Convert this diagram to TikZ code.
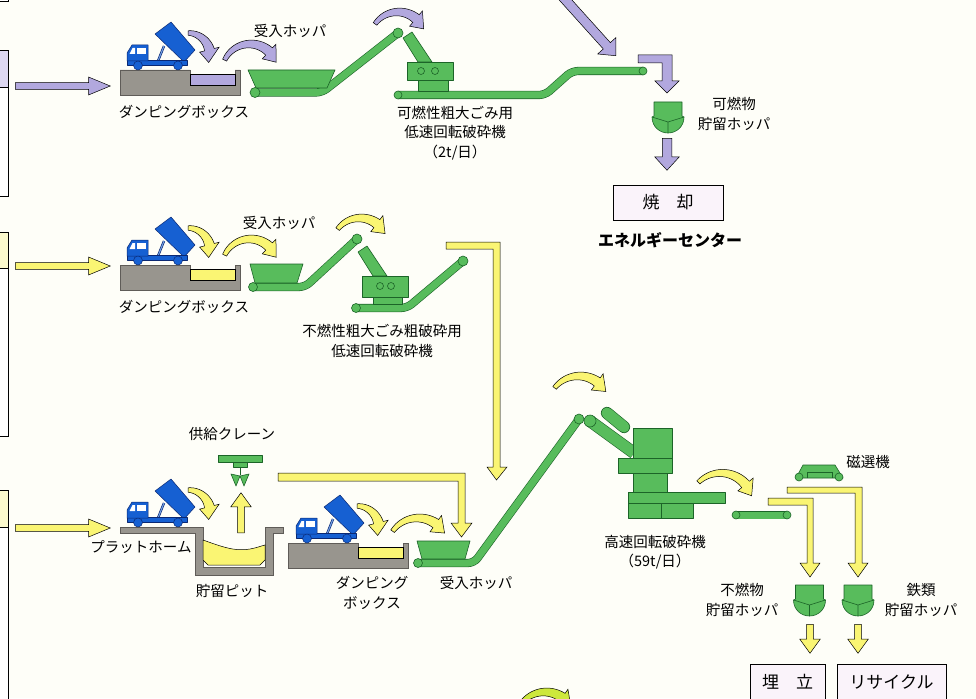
\documentclass[tikz,border=0pt]{standalone}
\usepackage{fontspec}
\newfontfamily\jpfont{Noto Sans CJK JP}
\usepackage{tikz}
\usetikzlibrary{shapes.arrows}

\definecolor{paper}{RGB}{254,254,248}
\definecolor{lavfill}{RGB}{178,168,222}
\definecolor{lavpale}{RGB}{222,216,242}
\definecolor{yelfill}{RGB}{250,245,115}
\definecolor{yelpale}{RGB}{252,250,205}
\definecolor{limefill}{RGB}{205,232,60}
\definecolor{beltgreen}{RGB}{88,188,92}
\definecolor{beltline}{RGB}{28,100,40}
\definecolor{truckblue}{RGB}{22,96,210}
\definecolor{truckline}{RGB}{10,40,115}
\definecolor{pitgray}{RGB}{152,149,142}
\definecolor{pitline}{RGB}{95,92,88}
\definecolor{boxpale}{RGB}{250,243,250}

% curved block arrow, thin at the tail: fill, centre x, centre y, radius, tail angle, head angle
\newcommand{\turnarrow}[6]{%
  \pgfmathsetmacro\arwHo{#4+10}%
  \pgfmathsetmacro\arwHi{#4-10}%
  \pgfmathsetmacro\arwTip{#6+13/#4*57.2958}%
  \begin{scope}[shift={(#2,#3)}]
    \filldraw[myFlow, fill=#1]
      plot[domain=#5:#6, samples=24] (\x:{#4+2.2+2.8*(\x-#5)/(#6-#5)})
      -- (#6:\arwHo) -- (\arwTip:#4) -- (#6:\arwHi)
      -- plot[domain=#6:#5, samples=24] (\x:{#4-2.2-2.8*(\x-#5)/(#6-#5)}) -- cycle;
  \end{scope}}

\tikzset{
myLabel/.style={font=\jpfont\fontsize{14.5}{19.5}\selectfont, align=center, inner sep=0pt}
, myDest/.style={draw, line width=0.6pt, fill=boxpale, font=\jpfont\fontsize{17}{20}\selectfont, inner sep=0pt}
, myMachine/.style={fill=beltgreen, draw=beltline, line width=0.6pt, line join=round}
, myBelt/.style={draw=beltline, double=beltgreen, double distance=7pt, line width=0.6pt, rounded corners=6pt}
, myRoller/.style={circle, draw=beltline, fill=beltgreen, line width=0.6pt, inner sep=0pt, minimum size=#1}
, myRoller/.default=9pt
, myFlow/.style={draw=black, line width=0.5pt, line join=miter}
, myInArrow/.style={single arrow, myFlow, inner sep=3.2pt, single arrow head extend=5.5pt, single arrow tip angle=45, anchor=tail}
, myDrop/.style={single arrow, myFlow, inner sep=3.2pt, single arrow head extend=6.8pt, single arrow tip angle=72, anchor=tail}
, myLavDrop/.style={myDrop, inner sep=4.5pt, single arrow head extend=7.5pt, single arrow tip angle=85}
, myGround/.style={fill=pitgray, draw=pitline, line width=0.5pt}
, myTruck/.style={fill=truckblue, draw=truckline, line width=0.5pt, line join=round}
% dump truck, origin at the rear wheel line on the ground
, pics/truck/.style={code={
	\filldraw[myTruck] (28,-36) -- (44,-48) -- (68,-20) -- (57,-8) -- cycle;
	\draw[truckline, line width=2.4pt] (31,-9) -- (37,-24);
	\draw[truckblue!60!white, line width=1.1pt] (31,-9) -- (37,-24);
	\filldraw[myTruck] (0,-5) rectangle (60,-10);
	\filldraw[myTruck] (0,-9) -- (0,-17) -- (5,-25) -- (21,-25) -- (21,-9) -- cycle;
	\fill[white] (2.5,-16) -- (5.5,-22) -- (8,-22) -- (8,-16) -- cycle;
	\fill[white] (10,-16) rectangle (19,-22);
	\foreach \wx in {11,51}
		\filldraw[myTruck] (\wx,-4.5) circle[radius=4.5];
}}
% dumping box with its load
, pics/dumpbox/.style={code={
	\filldraw[myGround] (0,0) -- (70,0) -- (70,15) -- (115,15) -- (115,0) -- (120,0)
		-- (120,25) -- (0,25) -- cycle;
	\filldraw[fill=#1, draw=black, line width=0.5pt] (70,4) rectangle (115,15);
}}
% storage hopper with its gate
, pics/storehopper/.style={code={
	\filldraw[myMachine] (-14,-15) -- (14,-15) -- (14,-1) -- (16,0)
		.. controls (16,10) and (8,16) .. (0,16) .. controls (-8,16) and (-16,10) .. (-16,0)
		-- (-14,-1) -- cycle;
	\draw[beltline, line width=0.6pt] (-16,0) -- (0,5) -- (16,0) (0,5) -- (0,16);
}}
}

\begin{document}
\begin{tikzpicture}[x=1pt, y=-1pt]
	\useasboundingbox (0,0) rectangle (976,698);
	\clip (0,0) rectangle (976,698);
	\fill[paper] (0,0) rectangle (976,698);

	% source boxes at the left edge
	\draw[line width=0.6pt, fill=white] (-5,-40) rectangle (8,1);
	\foreach \ya/\yb/\yc/\hc in {50/87/196/lavpale, 232/268/436/yelpale, 490/527/720/yelpale}{
		\draw[line width=0.6pt, fill=white] (-5,\ya) rectangle (8,\yc);
		\draw[line width=0.6pt, fill=\hc] (-5,\ya) rectangle (8,\yb);
	}

	%%%% combustible bulky waste
	\node[myInArrow, fill=lavfill, minimum height=95pt] (InA) at (15,86) {};
	\pic at (120,70) {dumpbox=lavfill};
	\pic at (127,70) {truck};
	\turnarrow{lavfill}{188}{55}{22}{270}{346}
	\turnarrow{lavfill}{250}{72}{28}{205}{313}
	% feed belt and hopper
	\coordinate (BeltA1) at (255,92.5);
	\coordinate (BeltA2) at (398,33);
	\draw[myBelt] (BeltA1) -- (322,92.5) -- (BeltA2);
	\filldraw[myMachine] (248,70) -- (335,70) -- (327,88) -- (256,88) -- cycle;
	\node[myRoller=10pt] (RollA1) at (BeltA1) {};
	\node[myRoller=10pt] (RollA2) at (BeltA2) {};
	% low speed shredder
	\turnarrow{lavfill}{398}{40}{28}{215}{310}
	\coordinate (BeltB1) at (398,95);
	\coordinate (BeltB2) at (643,71);
	\draw[myBelt] (BeltB1) -- (545,95) -- (572,71) -- (BeltB2);
	\filldraw[myMachine] (403,38) -- (412,32) -- (432,62) -- (418,62) -- cycle;
	\filldraw[myMachine] (407,62) rectangle (453,80);
	\filldraw[myMachine] (418,80) rectangle (448,91);
	\foreach \cx in {421,435}
		\filldraw[myMachine] (\cx,71) circle[radius=3.5];
	\node[myRoller=8pt] (RollB1) at (BeltB1) {};
	\node[myRoller=8pt] (RollB2) at (BeltB2) {};
	% to the storage hopper
	\node[myLavDrop, fill=lavfill, rotate=-48, minimum height=92pt, anchor=tip] (InTop) at (616,56) {};
	\filldraw[myFlow, fill=lavfill] (638,55) -- (672,55) -- (672,81) -- (679,81) -- (667,93)
		-- (655,81) -- (662,81) -- (662,63) -- (638,63) -- cycle;
	\pic at (668,117) {storehopper};
	\node[myLavDrop, fill=lavfill, rotate=-90, minimum height=32pt] (ToBurn) at (667,138) {};
	\node[myDest, minimum width=110pt, minimum height=35pt] (Burn) at (668,202.5) {焼　却};
	% labels
	\node[myLabel] (LblHopA) at (290,31) {受入ホッパ};
	\node[myLabel] (LblDumpA) at (184,112) {ダンピングボックス};
	\node[myLabel] (LblCrushA) at (455,133) {可燃性粗大ごみ用\\低速回転破砕機\\（2t/日）};
	\node[myLabel] (LblStoreA) at (734,114) {可燃物\\貯留ホッパ};
	\node[font=\jpfont\bfseries\fontsize{16}{18}\selectfont, inner sep=0pt] (Energy) at (670,240) {エネルギーセンター};

	%%%% incombustible bulky waste
	\node[myInArrow, fill=yelfill, minimum height=95pt] (InB) at (15,266) {};
	\pic at (120,265) {dumpbox=yelfill};
	\pic at (127,265) {truck};
	\turnarrow{yelfill}{188}{250}{22}{270}{346}
	\turnarrow{yelfill}{250}{267}{28}{205}{313}
	\coordinate (BeltC1) at (253,287);
	\coordinate (BeltC2) at (357,239);
	\draw[myBelt] (BeltC1) -- (305,287) -- (BeltC2);
	\filldraw[myMachine] (250,264) -- (303,264) -- (297,283) -- (255,283) -- cycle;
	\node[myRoller] (RollC1) at (BeltC1) {};
	\node[myRoller=10pt] (RollC2) at (BeltC2) {};
	\turnarrow{yelfill}{360}{246}{28}{217}{307}
	\coordinate (BeltD1) at (356,308);
	\coordinate (BeltD2) at (463,261);
	\draw[myBelt] (BeltD1) -- (407,308) -- (BeltD2);
	\filldraw[myMachine] (358,252) -- (367,246) -- (387,276) -- (373,276) -- cycle;
	\filldraw[myMachine] (362,276) rectangle (408,297);
	\filldraw[myMachine] (373,297) rectangle (402,304);
	\foreach \cx in {380,391}
		\filldraw[myMachine] (\cx,286) circle[radius=3.5];
	\node[myRoller] (RollD1) at (BeltD1) {};
	\node[myRoller=10pt] (RollD2) at (BeltD2) {};
	\filldraw[myFlow, fill=yelfill] (446,242) -- (500,242) -- (500,467) -- (507,467) -- (496.5,480)
		-- (487,467) -- (493,467) -- (493,249) -- (446,249) -- cycle;
	\node[myLabel] (LblHopB) at (279,223) {受入ホッパ};
	\node[myLabel] (LblDumpB) at (184,307) {ダンピングボックス};
	\node[myLabel] (LblCrushB) at (382,341) {不燃性粗大ごみ粗破砕用\\低速回転破砕機};

	%%%% incombustible waste
	\node[myInArrow, fill=yelfill, minimum height=95pt] (InC) at (15,528) {};
	% platform and pit
	\filldraw[myGround] (120,527) -- (203,527) -- (203,567) -- (265,567) -- (265,527) -- (283,527)
		-- (283,533) -- (273,533) -- (273,575) -- (195,575) -- (195,533) -- (120,533) -- cycle;
	\filldraw[fill=yelfill, draw=black, line width=0.5pt] (203,540)
		.. controls (220,546) and (235,552) .. (250,549) .. controls (256,548) and (261,546) .. (265,545)
		-- (265,560) -- (260,565) -- (208,565) -- (203,560) -- cycle;
	\pic at (127,527) {truck};
	\turnarrow{yelfill}{188}{512}{22}{270}{346}
	% crane
	\filldraw[myMachine] (218,455) rectangle (262,462);
	\filldraw[myMachine] (233,462) rectangle (247,467);
	\draw[beltline, line width=0.8pt] (240,467) -- (240,475);
	\filldraw[myMachine] (240,476) -- (231,474) -- (236,486) -- cycle;
	\filldraw[myMachine] (240,476) -- (249,474) -- (244,486) -- cycle;
	\node[myDrop, fill=yelfill, rotate=90, minimum height=40pt] (Lift) at (241,533) {};
	% second dumping box
	\pic at (288,543) {dumpbox=yelfill};
	\pic at (296,543) {truck};
	\turnarrow{yelfill}{357}{528}{22}{270}{346}
	\turnarrow{yelfill}{418}{549}{31}{215}{305}
	\filldraw[myFlow, fill=yelfill] (278,473) -- (465,473) -- (465,523) -- (472,523) -- (461.5,537)
		-- (451,523) -- (458,523) -- (458,481) -- (278,481) -- cycle;
	% feed belt
	\coordinate (BeltE1) at (418,563);
	\coordinate (BeltE2) at (579,419);
	\draw[myBelt] (BeltE1) -- (474,563) -- (BeltE2);
	\filldraw[myMachine] (417,541) -- (470,541) -- (465,559) -- (422,559) -- cycle;
	\node[myRoller] (RollE1) at (BeltE1) {};
	\node[myRoller=10pt] (RollE2) at (BeltE2) {};
	% high speed shredder
	\turnarrow{yelfill}{579}{407}{31}{218}{306}
	\draw[beltline, line width=12.2pt] (590,421) -- (634,453);
	\draw[beltgreen, line width=11pt] (590,421) -- (634,453);
	\draw[beltline, line width=12.2pt, line cap=round] (607,413) -- (624,427);
	\draw[beltgreen, line width=11pt, line cap=round] (607,413) -- (624,427);
	\filldraw[myMachine] (633,428) rectangle (672,458);
	\filldraw[myMachine] (618,458) rectangle (672,473);
	\filldraw[myMachine] (633,473) rectangle (667,492);
	\filldraw[myMachine] (628,492) rectangle (725,503);
	\filldraw[myMachine] (628,503) rectangle (661,518);
	\filldraw[myMachine] (661,503) rectangle (693,518);
	\node[myRoller=12pt] (RollF) at (590,421) {};
	% discharge belt and magnet
	\turnarrow{yelfill}{721}{505}{32}{225}{320}
	\coordinate (BeltG1) at (736,515);
	\coordinate (BeltG2) at (787,515);
	\draw[myBelt] (BeltG1) -- (BeltG2);
	\node[myRoller=8pt] (RollG1) at (BeltG1) {};
	\node[myRoller=8pt] (RollG2) at (BeltG2) {};
	\filldraw[myMachine] (803,465) -- (835,465) -- (843,478) -- (796,478) -- cycle;
	\draw[beltline, line width=0.6pt] (807,478) -- (807,472) -- (832,472) -- (832,478);
	\node[myRoller=8pt] (RollH1) at (799,477) {};
	\node[myRoller=8pt] (RollH2) at (839,477) {};
	\filldraw[myFlow, fill=yelfill] (787,487) -- (862,487) -- (862,563) -- (868,563) -- (858,577)
		-- (848,563) -- (855,563) -- (855,493) -- (787,493) -- cycle;
	\filldraw[myFlow, fill=yelfill] (768,498) -- (813,498) -- (813,563) -- (820,563) -- (810,577)
		-- (800,563) -- (807,563) -- (807,505) -- (768,505) -- cycle;
	% storage and destinations
	\pic at (809.5,600) {storehopper};
	\pic at (858,600) {storehopper};
	\node[myDrop, fill=yelfill, rotate=-90, minimum height=29pt] (ToFill) at (810,624) {};
	\node[myDrop, fill=yelfill, rotate=-90, minimum height=29pt] (ToReuse) at (858,624) {};
	\node[myDest, minimum width=75pt, minimum height=36pt] (Landfill) at (787.5,682) {埋　立};
	\node[myDest, minimum width=109pt, minimum height=36pt] (Recycle) at (891.5,682) {リサイクル};
	\turnarrow{limefill}{545}{722}{30}{215}{305}
	% labels
	\node[myLabel] (LblCrane) at (232,434) {供給クレーン};
	\node[myLabel] (LblPlat) at (141,547) {プラットホーム};
	\node[myLabel] (LblPit) at (232,591) {貯留ピット};
	\node[myLabel] (LblDumpC) at (372,593) {ダンピング\\ボックス};
	\node[myLabel] (LblHopC) at (476,583) {受入ホッパ};
	\node[myLabel] (LblCrushC) at (655,552) {高速回転破砕機\\（59t/日）};
	\node[myLabel] (LblMagnet) at (868,462) {磁選機};
	\node[myLabel] (LblStoreB) at (742,600) {不燃物\\貯留ホッパ};
	\node[myLabel] (LblStoreC) at (921,600) {鉄類\\貯留ホッパ};
\end{tikzpicture}
\end{document}
